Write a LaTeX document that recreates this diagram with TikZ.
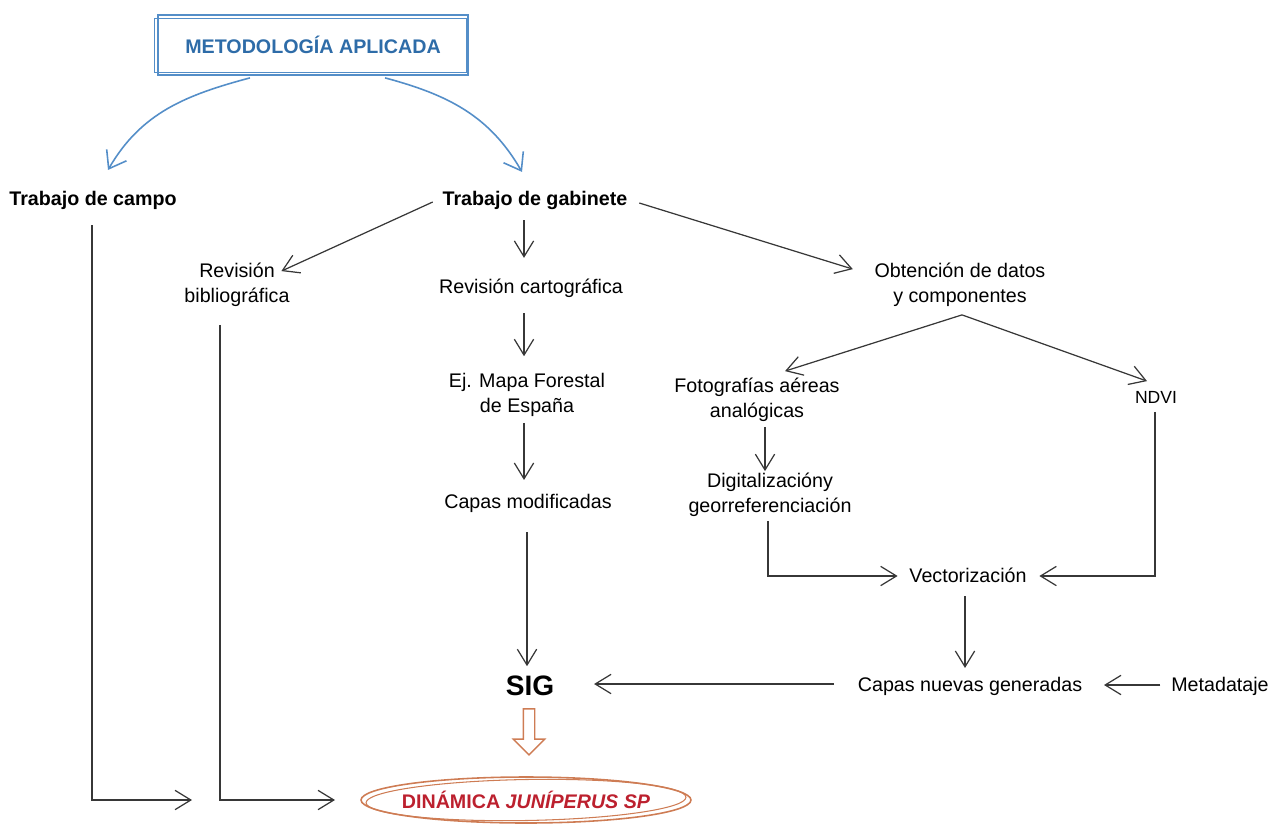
\documentclass[tikz,border=0pt]{standalone}
\usepackage{fontspec}
\setmainfont{Liberation Sans}
\usetikzlibrary{arrows.meta, calc, shapes.arrows}

\definecolor{titleblue}{RGB}{46,108,168}
\definecolor{lineblue}{RGB}{84,142,200}
\definecolor{linegray}{RGB}{55,55,55}
\definecolor{redtxt}{RGB}{188,32,46}
\definecolor{orangeb}{RGB}{206,124,84}

\begin{document}
\begin{tikzpicture}[x=0.02cm, y=-0.02cm,
    every node/.style={font=\fontsize{11.2}{14.5}\selectfont, inner sep=2pt, align=center},
    bold/.style={font=\fontsize{11.2}{14.5}\selectfont\bfseries},
    arr/.style={draw=linegray, line width=0.7pt, -{Straight Barb[length=9pt,width=11pt]}},
    bluearr/.style={draw=lineblue, line width=0.9pt, -{Straight Barb[length=9pt,width=13pt]}}]
            \useasboundingbox (0,0) rectangle (1283,828);

            % Nodes
            \node[bold, text=titleblue, draw=lineblue, line width=1pt, minimum width=6.2cm, minimum height=1.2cm] (title) at (313,45) {METODOLOGÍA APLICADA};
            \node[bold] (campo) at (93,200) {Trabajo de campo};
            \node[bold] (gab) at (535,200) {Trabajo de gabinete};
            \node (revbib) at (237,285) {Revisión\\bibliográfica};
            \node (revcart) at (531,288) {Revisión cartográfica};
            \node (mapa) at (527,395) {Ej. Mapa Forestal\\de España};
            \node (capmod) at (528,503) {Capas modificadas};
            \node (obt) at (960,285) {Obtención de datos\\y componentes};
            \node (foto) at (757,400) {Fotografías aéreas\\analógicas};
            \node[font=\fontsize{10}{12}\selectfont] (ndvi) at (1156,397) {NDVI};
            \node (digi) at (770,495) {Digitalizacióny\\georreferenciación};
            \node (vec) at (968,575) {Vectorización};
            \node (capnew) at (970,686) {Capas nuevas generadas};
            \node (meta) at (1220,686) {Metadataje};
            \node[font=\fontsize{16}{19}\selectfont\bfseries] (sig) at (530,686) {SIG};
            \node[bold, text=redtxt] (din) at (526,800) {DINÁMICA \textit{JUNÍPERUS SP}};
            \node[single arrow, draw=orangeb, line width=0.8pt, shape border rotate=270, minimum height=0.92cm, inner sep=0.1cm, single arrow head extend=0.2cm, single arrow head indent=0cm] (sigarr) at (529,729) {};
            \coordinate (e1) at (192,800);
            \coordinate (e2) at (335,800);

            % Frames
            \draw[lineblue, line width=0.6pt] ($(title.north west)+(-3,4)$) rectangle ($(title.south east)+(-2,-3)$);
            \draw[orangeb, line width=0.9pt] (din) ellipse [x radius=3.3cm, y radius=0.46cm];
            \draw[orangeb, line width=0.6pt, rotate around={1:(din)}] (din) ellipse [x radius=3.2cm, y radius=0.41cm];

            % Arrows
            \draw[bluearr] ($(title.south)+(-63,2)$) to[out=195, in=60] ($(campo.north)+(15,-17)$);
            \draw[bluearr] ($(title.south)+(72,2)$) to[out=-15, in=120] ($(gab.north)+(-13,-15)$);

            \draw[arr] ($(campo.south)+(-1,12)$) |- (e1);
            \draw[arr] ($(revbib.south)+(-17,14)$) |- (e2);

            \draw[arr] ($(gab.west)+(-6,2)$) -- ($(revbib.north east)+(-12,12)$);
            \draw[arr] ($(gab.east)+(8,3)$) -- ($(obt.north west)+(-18,10)$);
            \draw[arr] ($(gab.south)+(-11,7)$) -- ($(revcart.north)+(-7,-17)$);
            \draw[arr] ($(revcart.south)+(-7,12)$) -- ($(mapa.north)+(-3,-13)$);
            \draw[arr] ($(mapa.south)+(-3,2)$) -- ($(capmod.north)+(-4,-10)$);
            \draw[arr] ($(capmod.south)+(-1,16)$) -- ($(sig.north)+(-3,-6)$);

            \draw[arr] ($(obt.south)+(2,4)$) -- ($(foto.north)+(28,-3)$);
            \draw[arr] ($(obt.south)+(2,4)$) -- ($(ndvi.north)+(-9,-6)$);
            \draw[arr] ($(foto.south)+(8,1)$) -- ($(digi.north)+(-5,2)$);
            \draw[arr] ($(digi.south)+(-2,0)$) |- ($(vec.west)+(-8,1)$);
            \draw[arr] ($(ndvi.south)+(-1,5)$) |- ($(vec.east)+(9,1)$);
            \draw[arr] ($(vec.south)+(-3,10)$) -- ($(capnew.north)+(-5,-5)$);

            \draw[arr] ($(capnew.west)+(-20,-2)$) -- ($(sig.east)+(36,-2)$);
            \draw[arr] ($(meta.west)+(-7,-1)$) -- ($(capnew.east)+(18,-1)$);
            \end{tikzpicture}
\end{document}
